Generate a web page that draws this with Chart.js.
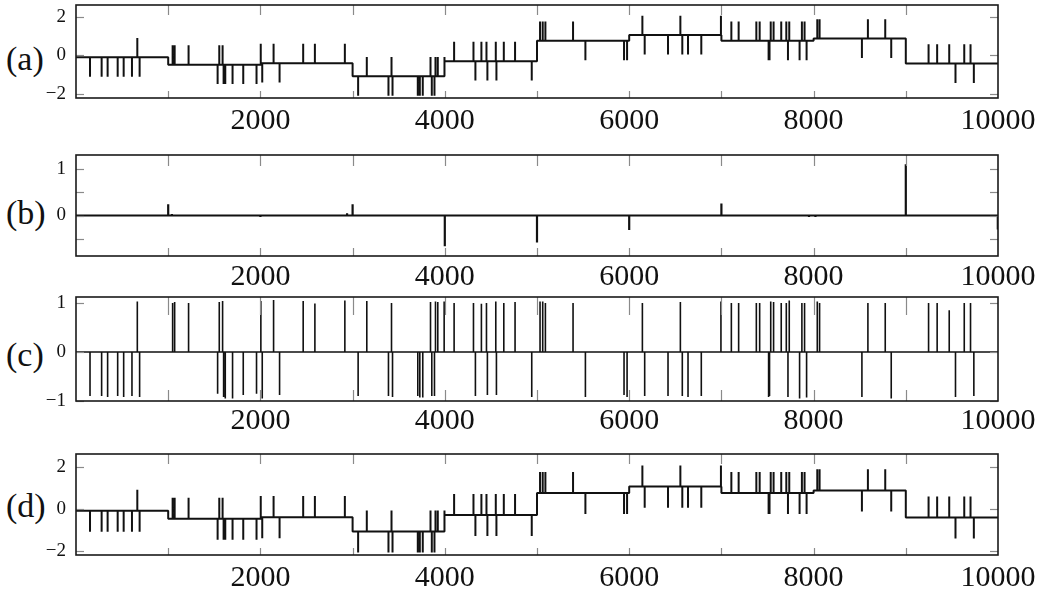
<!DOCTYPE html>
<html><head><meta charset="utf-8">
<script src="https://cdn.jsdelivr.net/npm/chart.js@4.4.1/dist/chart.umd.min.js"></script>
<style>
html,body{margin:0;padding:0;background:#fff;width:1054px;height:589px;overflow:hidden;position:relative;}
canvas{position:absolute;left:0;}
.lab{position:absolute;left:6px;font-family:"Liberation Serif",serif;font-size:34px;line-height:40px;color:#111;}
</style></head><body>
<div class="lab" style="top:39px">(a)</div>
<div class="lab" style="top:193px">(b)</div>
<div class="lab" style="top:335px">(c)</div>
<div class="lab" style="top:486px">(d)</div>
<canvas id="ca" width="1054" height="138" style="top:0px"></canvas>
<canvas id="cb" width="1054" height="146" style="top:150px"></canvas>
<canvas id="cc" width="1054" height="149" style="top:292px"></canvas>
<canvas id="cd" width="1054" height="146" style="top:449px"></canvas>
<script>
// ---- data ----
const xTickMarks = [1000,2000,3000,4000,5000,6000,7000,8000,9000];
const xTickLabels = [2000,4000,6000,8000,10000];

// piecewise-constant levels (panels a and d)
const segStart = [0,1000,2000,3000,4000,5000,6000,7000,8000,9000];
const segLevel = [-0.1,-0.48,-0.4,-1.08,-0.3,0.75,1.05,0.75,0.87,-0.42];

// spike positions and their amplitudes as drawn in panel (c)
const spikeX = [152,278,343,452,517,607,665,690,
  1048,1070,1221,1536,1554,1590,1601,1619,1698,1814,1958,
  2005,2020,2143,2208,2464,2591,2916,
  3060,3154,3389,3422,3433,3707,3729,3761,3845,3859,3888,3899,3924,3993,
  4101,4311,4332,4397,4452,4462,4553,4560,4640,4762,4943,
  5033,5062,5091,5391,5525,5944,5977,
  6143,6168,6421,6555,6576,6638,6782,6995,
  7108,7187,7379,7415,7512,7522,7535,7566,7649,7704,7722,7736,7848,7873,7902,7924,
  8040,8065,8524,8589,8777,8842,
  9247,9340,9471,9539,9634,9702,9738];
const spikeC = [-0.9,-0.9,-0.92,-0.9,-0.92,-0.9,1.03,-0.92,
  1.0,1.02,1.0,-0.85,1.02,1.04,-0.92,-0.95,-0.95,-0.88,-0.85,
  1.04,-0.95,1.06,-0.88,1.04,0.99,1.05,
  -0.9,1.04,-0.9,1.0,-0.92,-0.9,-0.93,-0.93,1.02,-0.9,-0.9,1.03,1.02,1.03,
  1.0,1.0,-0.9,0.98,1.0,-0.88,1.03,-0.88,1.0,1.02,-0.92,
  1.03,1.03,1.0,1.0,-0.92,-0.88,-0.92,
  1.0,-0.9,-0.9,1.02,-0.9,-0.92,-0.9,1.03,
  1.0,1.0,1.0,1.0,-0.92,-0.9,1.03,1.02,1.0,1.0,-0.92,1.05,-0.95,1.0,1.0,-0.93,
  1.03,1.0,-0.92,1.0,1.0,-0.95,
  1.0,1.0,0.85,-0.92,1.0,1.0,-0.9];

// panel (b) residual spikes
const bX = [1000,1040,1110,2000,2940,3000,4000,5000,6000,6500,7000,7950,8020,9000,9998];
const bV = [0.24,0.03,0.02,-0.03,0.05,0.24,-0.66,-0.58,-0.31,0.01,0.26,-0.03,-0.03,1.1,-0.3];

// y ticks per panel
const aYTicks = [-2,0,2];
const bYTicks = [-0.5,0,0.5,1];
const bYLabels = [0,1];
const cYTicks = [-1,0,1];
const dYTicks = [-2,0,2];

// ---- build line tables ----
function stepSeries(){
  const pts = [];
  for (let i=0;i<segStart.length;i++){
    const s = segStart[i], e = (i+1<segStart.length)?segStart[i+1]:10000, L = segLevel[i];
    pts.push({x:s,y:L});
    spikeX.forEach((sx,k)=>{
      if (sx>=s && sx<e){
        const d = spikeC[k] > 0 ? 1 : -1;
        pts.push({x:sx,y:L},{x:sx,y:L+d},{x:sx,y:L});
      }
    });
    pts.push({x:e,y:L});
  }
  return pts;
}
function spikeSeries(xs, vs){
  const pts=[{x:0,y:0}];
  xs.forEach((x,k)=>{pts.push({x:x,y:0},{x:x,y:vs[k]},{x:x,y:0});});
  pts.push({x:10000,y:0});
  return pts;
}

const minus = v => (v<0?'\u2212'+Math.abs(v):String(v));
const FAM = '"Liberation Serif", serif';

const frame = {
  id:'frame',
  afterDatasetsDraw(chart, args, o){
    const {ctx, chartArea:a, scales:{x,y}} = chart;
    ctx.save();
    ctx.strokeStyle = '#8a8a8a'; ctx.lineWidth = 1.2;
    const ln=(x1,y1,x2,y2)=>{ctx.beginPath();ctx.moveTo(x1,y1);ctx.lineTo(x2,y2);ctx.stroke();};
    xTickMarks.forEach(v=>{
      const px = Math.round(x.getPixelForValue(v))+0.5;
      ln(px,a.bottom,px,a.bottom-o.bot);
      ln(px,a.top,px,a.top+o.top);
    });
    o.yMarks.forEach(v=>{
      const py = Math.round(y.getPixelForValue(v))+0.5;
      ln(a.left,py,a.left+8,py);
      ln(a.right,py,a.right-8,py);
    });
    ctx.strokeStyle = '#1a1a1a'; ctx.lineWidth = 1.6;
    ctx.strokeRect(a.left, a.top, a.right-a.left, a.bottom-a.top);
    ctx.restore();
  }
};

function panel(id, pts, yMin, yMax, yTicks, yLabels, lw, topLen, botLen, pad){
  new Chart(document.getElementById(id), {
    type:'line',
    data:{datasets:[{data:pts, borderColor:'#111', borderWidth:lw, pointRadius:0,
      tension:0, borderJoinStyle:'bevel', fill:false}]},
    plugins:[frame],
    options:{
      responsive:false, animation:false, devicePixelRatio:1,
      layout:{padding:{top:5,right:56,bottom:0,left:0}},
      plugins:{legend:{display:false}, tooltip:{enabled:false},
        frame:{yMarks:yTicks, top:topLen, bot:botLen}},
      scales:{
        x:{type:'linear', min:0, max:10000,
          afterBuildTicks:s=>{s.ticks = xTickMarks.concat([10000]).map(v=>({value:v}));},
          afterFit:s=>{s.height=40; s.paddingLeft=0; s.paddingRight=0;},
          grid:{display:false, drawTicks:false}, border:{display:false},
          ticks:{autoSkip:false, maxRotation:0, minRotation:0, padding:pad, color:'#111',
            font:{family:FAM, size:30},
            callback:v=> xTickLabels.includes(v)? String(v):''}},
        y:{type:'linear', min:yMin, max:yMax,
          afterBuildTicks:s=>{s.ticks = yTicks.map(v=>({value:v}));},
          afterFit:s=>{s.width=76; s.paddingTop=0; s.paddingBottom=0;},
          grid:{display:false, drawTicks:false}, border:{display:false},
          ticks:{padding:10, color:'#111',
            font:{family:FAM, size:19},
            callback:v=> yLabels.includes(v)? minus(v):''}}
      }
    }
  });
}

function draw(){
  const stepPts = stepSeries();
  panel('ca', stepPts, -2.2, 2.6, aYTicks, aYTicks, 2, 10, 7, 5);
  panel('cb', spikeSeries(bX,bV), -0.87, 1.3, bYTicks, bYLabels, 2.2, 11, 8, 3);
  panel('cc', spikeSeries(spikeX,spikeC), -1, 1.12, cYTicks, cYTicks, 1.6, 18, 11, 2);
  panel('cd', stepPts, -2.2, 2.6, dYTicks, dYTicks, 2, 10, 7, 5);
}
Promise.all([document.fonts.load('30px "Liberation Serif"'), document.fonts.load('19px "Liberation Serif"')])
  .then(draw, draw);
</script></body></html>
